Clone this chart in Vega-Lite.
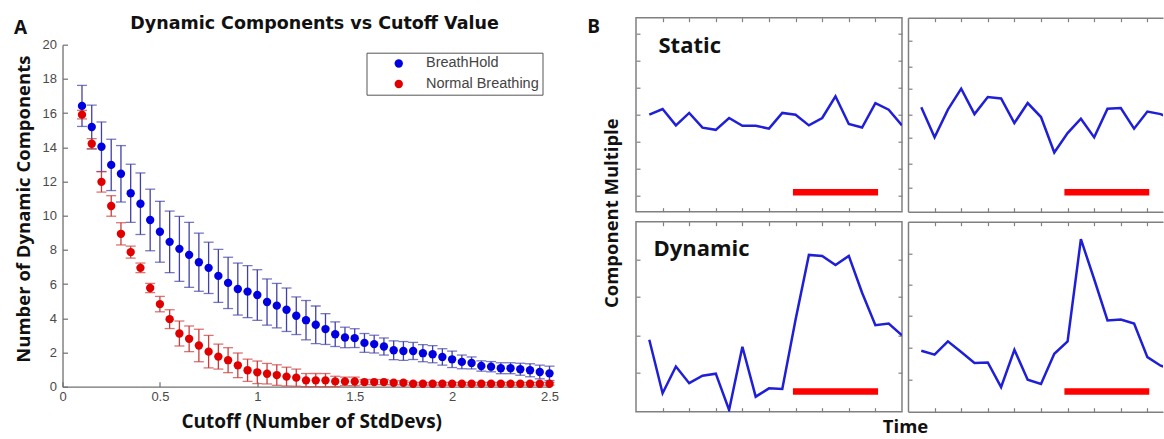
{
  "$schema": "https://vega.github.io/schema/vega-lite/v6.json",
  "padding": {"left": 13.5, "top": 14.7, "right": 0, "bottom": 0},
  "autosize": {"type": "pad"},
  "background": "white",
  "align": "none",
  "spacing": 26.5,
  "config": {
    "view": {"stroke": null},
    "font": "Liberation Sans",
    "axis": {"grid": false, "labelFont": "Liberation Sans", "labelFontSize": 13, "labelColor": "#4a4a4a", "domainColor": "#707070", "tickColor": "#707070", "domainWidth": 1.3, "tickWidth": 1.2, "titleFont": "Open Sans", "titleFontWeight": "bold", "titleColor": "#111111"}
  },
  "datasets": {
    "cut": [
      {"x":0.1,"s":"BreathHold","m":16.42,"lo":15.22,"hi":17.62},
      {"x":0.15,"s":"BreathHold","m":15.19,"lo":13.91,"hi":16.47},
      {"x":0.2,"s":"BreathHold","m":14.03,"lo":12.58,"hi":15.48},
      {"x":0.25,"s":"BreathHold","m":12.97,"lo":11.47,"hi":14.47},
      {"x":0.3,"s":"BreathHold","m":12.45,"lo":10.8,"hi":14.1},
      {"x":0.35,"s":"BreathHold","m":11.31,"lo":9.61,"hi":13.01},
      {"x":0.4,"s":"BreathHold","m":10.7,"lo":8.9,"hi":12.5},
      {"x":0.45,"s":"BreathHold","m":9.75,"lo":7.95,"hi":11.55},
      {"x":0.5,"s":"BreathHold","m":9.06,"lo":7.28,"hi":10.84},
      {"x":0.55,"s":"BreathHold","m":8.47,"lo":6.67,"hi":10.27},
      {"x":0.6,"s":"BreathHold","m":8.06,"lo":6.16,"hi":9.96},
      {"x":0.65,"s":"BreathHold","m":7.71,"lo":5.81,"hi":9.61},
      {"x":0.7,"s":"BreathHold","m":7.28,"lo":5.58,"hi":8.98},
      {"x":0.75,"s":"BreathHold","m":6.95,"lo":5.45,"hi":8.45},
      {"x":0.8,"s":"BreathHold","m":6.48,"lo":4.93,"hi":8.03},
      {"x":0.85,"s":"BreathHold","m":6.07,"lo":4.57,"hi":7.57},
      {"x":0.9,"s":"BreathHold","m":5.71,"lo":4.19,"hi":7.23},
      {"x":0.95,"s":"BreathHold","m":5.56,"lo":4.04,"hi":7.08},
      {"x":1.0,"s":"BreathHold","m":5.36,"lo":3.88,"hi":6.84},
      {"x":1.05,"s":"BreathHold","m":4.95,"lo":3.6,"hi":6.3},
      {"x":1.1,"s":"BreathHold","m":4.74,"lo":3.44,"hi":6.04},
      {"x":1.15,"s":"BreathHold","m":4.5,"lo":3.23,"hi":5.77},
      {"x":1.2,"s":"BreathHold","m":4.15,"lo":3.05,"hi":5.25},
      {"x":1.25,"s":"BreathHold","m":3.89,"lo":2.74,"hi":5.04},
      {"x":1.3,"s":"BreathHold","m":3.62,"lo":2.52,"hi":4.72},
      {"x":1.35,"s":"BreathHold","m":3.37,"lo":2.47,"hi":4.27},
      {"x":1.4,"s":"BreathHold","m":3.07,"lo":2.35,"hi":3.79},
      {"x":1.45,"s":"BreathHold","m":2.88,"lo":2.28,"hi":3.48},
      {"x":1.5,"s":"BreathHold","m":2.84,"lo":2.29,"hi":3.39},
      {"x":1.55,"s":"BreathHold","m":2.56,"lo":2.01,"hi":3.11},
      {"x":1.6,"s":"BreathHold","m":2.49,"lo":1.97,"hi":3.01},
      {"x":1.65,"s":"BreathHold","m":2.35,"lo":1.85,"hi":2.85},
      {"x":1.7,"s":"BreathHold","m":2.13,"lo":1.58,"hi":2.68},
      {"x":1.75,"s":"BreathHold","m":2.09,"lo":1.54,"hi":2.64},
      {"x":1.8,"s":"BreathHold","m":2.09,"lo":1.59,"hi":2.59},
      {"x":1.85,"s":"BreathHold","m":1.96,"lo":1.46,"hi":2.46},
      {"x":1.9,"s":"BreathHold","m":1.9,"lo":1.4,"hi":2.4},
      {"x":1.95,"s":"BreathHold","m":1.74,"lo":1.26,"hi":2.22},
      {"x":2.0,"s":"BreathHold","m":1.6,"lo":1.12,"hi":2.08},
      {"x":2.05,"s":"BreathHold","m":1.45,"lo":1.05,"hi":1.85},
      {"x":2.1,"s":"BreathHold","m":1.39,"lo":1.04,"hi":1.74},
      {"x":2.15,"s":"BreathHold","m":1.21,"lo":0.91,"hi":1.51},
      {"x":2.2,"s":"BreathHold","m":1.17,"lo":0.87,"hi":1.47},
      {"x":2.25,"s":"BreathHold","m":1.08,"lo":0.76,"hi":1.4},
      {"x":2.3,"s":"BreathHold","m":1.08,"lo":0.76,"hi":1.4},
      {"x":2.35,"s":"BreathHold","m":1.02,"lo":0.67,"hi":1.37},
      {"x":2.4,"s":"BreathHold","m":0.96,"lo":0.58,"hi":1.34},
      {"x":2.45,"s":"BreathHold","m":0.86,"lo":0.46,"hi":1.26},
      {"x":2.5,"s":"BreathHold","m":0.78,"lo":0.36,"hi":1.2},
      {"x":0.1,"s":"Normal Breathing","m":15.91,"lo":15.66,"hi":16.16},
      {"x":0.15,"s":"Normal Breathing","m":14.21,"lo":13.91,"hi":14.51},
      {"x":0.2,"s":"Normal Breathing","m":11.98,"lo":11.38,"hi":12.58},
      {"x":0.25,"s":"Normal Breathing","m":10.57,"lo":9.97,"hi":11.17},
      {"x":0.3,"s":"Normal Breathing","m":8.94,"lo":8.29,"hi":9.59},
      {"x":0.35,"s":"Normal Breathing","m":7.87,"lo":7.52,"hi":8.22},
      {"x":0.4,"s":"Normal Breathing","m":6.95,"lo":6.67,"hi":7.23},
      {"x":0.45,"s":"Normal Breathing","m":5.77,"lo":5.5,"hi":6.04},
      {"x":0.5,"s":"Normal Breathing","m":4.83,"lo":4.38,"hi":5.28},
      {"x":0.55,"s":"Normal Breathing","m":3.95,"lo":3.4,"hi":4.5},
      {"x":0.6,"s":"Normal Breathing","m":3.11,"lo":2.38,"hi":3.84},
      {"x":0.65,"s":"Normal Breathing","m":2.8,"lo":2.05,"hi":3.55},
      {"x":0.7,"s":"Normal Breathing","m":2.41,"lo":1.46,"hi":3.36},
      {"x":0.75,"s":"Normal Breathing","m":2.05,"lo":1.1,"hi":3.0},
      {"x":0.8,"s":"Normal Breathing","m":1.76,"lo":1.03,"hi":2.49},
      {"x":0.85,"s":"Normal Breathing","m":1.55,"lo":0.82,"hi":2.28},
      {"x":0.9,"s":"Normal Breathing","m":1.25,"lo":0.53,"hi":1.97},
      {"x":0.95,"s":"Normal Breathing","m":0.96,"lo":0.31,"hi":1.61},
      {"x":1.0,"s":"Normal Breathing","m":0.84,"lo":0.18,"hi":1.5},
      {"x":1.05,"s":"Normal Breathing","m":0.76,"lo":0.16,"hi":1.36},
      {"x":1.1,"s":"Normal Breathing","m":0.68,"lo":0.08,"hi":1.28},
      {"x":1.15,"s":"Normal Breathing","m":0.59,"lo":0.04,"hi":1.14},
      {"x":1.2,"s":"Normal Breathing","m":0.53,"lo":0.03,"hi":1.03},
      {"x":1.25,"s":"Normal Breathing","m":0.37,"lo":0.0,"hi":0.77},
      {"x":1.3,"s":"Normal Breathing","m":0.37,"lo":0.0,"hi":0.77},
      {"x":1.35,"s":"Normal Breathing","m":0.37,"lo":0.0,"hi":0.77},
      {"x":1.4,"s":"Normal Breathing","m":0.31,"lo":0.01,"hi":0.61},
      {"x":1.45,"s":"Normal Breathing","m":0.31,"lo":0.06,"hi":0.56},
      {"x":1.5,"s":"Normal Breathing","m":0.31,"lo":0.06,"hi":0.56},
      {"x":1.55,"s":"Normal Breathing","m":0.27,"lo":0.12,"hi":0.42},
      {"x":1.6,"s":"Normal Breathing","m":0.27,"lo":0.12,"hi":0.42},
      {"x":1.65,"s":"Normal Breathing","m":0.27,"lo":0.12,"hi":0.42},
      {"x":1.7,"s":"Normal Breathing","m":0.23,"lo":0.11,"hi":0.35},
      {"x":1.75,"s":"Normal Breathing","m":0.23,"lo":0.11,"hi":0.35},
      {"x":1.8,"s":"Normal Breathing","m":0.17,"lo":0.09,"hi":0.25},
      {"x":1.85,"s":"Normal Breathing","m":0.17,"lo":0.09,"hi":0.25},
      {"x":1.9,"s":"Normal Breathing","m":0.17,"lo":0.09,"hi":0.25},
      {"x":1.95,"s":"Normal Breathing","m":0.17,"lo":0.09,"hi":0.25},
      {"x":2.0,"s":"Normal Breathing","m":0.17,"lo":0.09,"hi":0.25},
      {"x":2.05,"s":"Normal Breathing","m":0.17,"lo":0.09,"hi":0.25},
      {"x":2.1,"s":"Normal Breathing","m":0.17,"lo":0.09,"hi":0.25},
      {"x":2.15,"s":"Normal Breathing","m":0.17,"lo":0.09,"hi":0.25},
      {"x":2.2,"s":"Normal Breathing","m":0.17,"lo":0.09,"hi":0.25},
      {"x":2.25,"s":"Normal Breathing","m":0.17,"lo":0.09,"hi":0.25},
      {"x":2.3,"s":"Normal Breathing","m":0.17,"lo":0.09,"hi":0.25},
      {"x":2.35,"s":"Normal Breathing","m":0.17,"lo":0.09,"hi":0.25},
      {"x":2.4,"s":"Normal Breathing","m":0.17,"lo":0.09,"hi":0.25},
      {"x":2.45,"s":"Normal Breathing","m":0.17,"lo":0.09,"hi":0.25},
      {"x":2.5,"s":"Normal Breathing","m":0.17,"lo":0.09,"hi":0.25}
    ],
    "series": [
      {"p":"TL","t":0.5,"v":5.0},{"p":"TL","t":1.0,"v":5.29},{"p":"TL","t":1.5,"v":4.45},{"p":"TL","t":2.0,"v":5.09},{"p":"TL","t":2.5,"v":4.33},
      {"p":"TL","t":3.0,"v":4.22},{"p":"TL","t":3.5,"v":4.83},{"p":"TL","t":4.0,"v":4.43},{"p":"TL","t":4.5,"v":4.43},{"p":"TL","t":5.0,"v":4.28},
      {"p":"TL","t":5.5,"v":5.09},{"p":"TL","t":6.0,"v":5.0},{"p":"TL","t":6.5,"v":4.45},{"p":"TL","t":7.0,"v":4.83},{"p":"TL","t":7.5,"v":5.95},
      {"p":"TL","t":8.0,"v":4.52},{"p":"TL","t":8.5,"v":4.34},{"p":"TL","t":9.0,"v":5.6},{"p":"TL","t":9.5,"v":5.26},{"p":"TL","t":10.0,"v":4.45},
      {"p":"TR","t":0.5,"v":5.38},{"p":"TR","t":1.0,"v":3.84},{"p":"TR","t":1.5,"v":5.26},{"p":"TR","t":2.0,"v":6.34},{"p":"TR","t":2.5,"v":5.03},
      {"p":"TR","t":3.0,"v":5.91},{"p":"TR","t":3.5,"v":5.84},{"p":"TR","t":4.0,"v":4.57},{"p":"TR","t":4.5,"v":5.6},{"p":"TR","t":5.0,"v":4.88},
      {"p":"TR","t":5.5,"v":3.05},{"p":"TR","t":6.0,"v":4.05},{"p":"TR","t":6.5,"v":4.79},{"p":"TR","t":7.0,"v":3.83},{"p":"TR","t":7.5,"v":5.31},
      {"p":"TR","t":8.0,"v":5.34},{"p":"TR","t":8.5,"v":4.28},{"p":"TR","t":9.0,"v":5.16},{"p":"TR","t":9.5,"v":5.03},{"p":"TR","t":10.0,"v":4.7},
      {"p":"BL","t":0.5,"v":3.79},{"p":"BL","t":1.0,"v":0.97},{"p":"BL","t":1.5,"v":2.38},{"p":"BL","t":2.0,"v":1.5},{"p":"BL","t":2.5,"v":1.89},
      {"p":"BL","t":3.0,"v":2.0},{"p":"BL","t":3.5,"v":0.09},{"p":"BL","t":4.0,"v":3.42},{"p":"BL","t":4.5,"v":0.79},{"p":"BL","t":5.0,"v":1.23},
      {"p":"BL","t":5.5,"v":1.2},{"p":"BL","t":6.0,"v":4.85},{"p":"BL","t":6.5,"v":8.25},{"p":"BL","t":7.0,"v":8.2},{"p":"BL","t":7.5,"v":7.72},
      {"p":"BL","t":8.0,"v":8.2},{"p":"BL","t":8.5,"v":6.26},{"p":"BL","t":9.0,"v":4.55},{"p":"BL","t":9.5,"v":4.64},{"p":"BL","t":10.0,"v":4.02},
      {"p":"BR","t":0.5,"v":3.21},{"p":"BR","t":1.0,"v":3.0},{"p":"BR","t":1.5,"v":3.7},{"p":"BR","t":2.0,"v":3.14},{"p":"BR","t":2.5,"v":2.56},
      {"p":"BR","t":3.0,"v":2.59},{"p":"BR","t":3.5,"v":1.29},{"p":"BR","t":4.0,"v":3.26},{"p":"BR","t":4.5,"v":1.68},{"p":"BR","t":5.0,"v":1.46},
      {"p":"BR","t":5.5,"v":3.05},{"p":"BR","t":6.0,"v":3.7},{"p":"BR","t":6.5,"v":9.08},{"p":"BR","t":7.0,"v":6.97},{"p":"BR","t":7.5,"v":4.8},
      {"p":"BR","t":8.0,"v":4.85},{"p":"BR","t":8.5,"v":4.64},{"p":"BR","t":9.0,"v":2.87},{"p":"BR","t":9.5,"v":2.42},{"p":"BR","t":10.0,"v":2.2}
    ],
    "bars": [
      {"p":"TL","x1":5.9,"x2":9.1,"y":1.0},
      {"p":"TR","x1":5.88,"x2":9.07,"y":1.0},
      {"p":"BL","x1":5.9,"x2":9.1,"y":1.06},
      {"p":"BR","x1":5.88,"x2":9.07,"y":1.06}
    ]
  },
  "hconcat": [
    {
      "bounds": "flush",
      "spacing": 0,
      "vconcat": [
        {"width": 487, "height": 26.3, "data": {"values": [{"a": 0}]}, "mark": {"type": "point", "opacity": 0}},
        {
          "width": 487,
          "height": 342,
          "data": {"name": "cut"},
          "layer": [
            {
              "mark": {"type": "errorbar", "ticks": true, "size": 10, "thickness": 1.3},
              "encoding": {
                "x": {"field": "x", "type": "quantitative", "scale": {"domain": [0, 2.5], "nice": false, "zero": false},
                  "axis": {"orient": "bottom", "values": [0, 0.5, 1, 1.5, 2, 2.5], "format": "~g", "labelFlush": false, "title": "Cutoff (Number of StdDevs)", "titleFontSize": 19, "titleX": 248.7, "titleY": 40.5, "titleBaseline": "alphabetic", "titleAlign": "center", "tickSize": -5, "labelPadding": 9}},
                "y": {"field": "lo", "type": "quantitative", "scale": {"domain": [0, 20], "nice": false},
                  "axis": {"orient": "left", "values": [0, 2, 4, 6, 8, 10, 12, 14, 16, 18, 20], "title": "Number of Dynamic Components", "titleFontSize": 18.5, "titleX": -33.3, "titleY": 164, "titleBaseline": "alphabetic", "titleAlign": "center", "titleAngle": -90, "tickSize": -5, "labelPadding": 11}},
                "y2": {"field": "hi"},
                "color": {"field": "s", "type": "nominal", "scale": {"domain": ["BreathHold", "Normal Breathing"], "range": ["#4040a8", "#cc3b3b"]}, "legend": null}
              }
            },
            {
              "mark": {"type": "point", "filled": true, "size": 70, "opacity": 1},
              "encoding": {
                "x": {"field": "x", "type": "quantitative", "scale": {"domain": [0, 2.5], "nice": false, "zero": false},
                  "axis": {"orient": "top", "title": "Dynamic Components vs Cutoff Value", "titleFont": "DejaVu Sans", "titleFontSize": 17.5, "titleX": 251.5, "titleY": -15.8, "titleBaseline": "alphabetic", "titleAlign": "center", "domain": false, "ticks": false, "labels": false}},
                "y": {"field": "m", "type": "quantitative",
                  "axis": {"orient": "right", "title": "A", "titleFontSize": 19, "titleX": -536, "titleY": -11.3, "titleAngle": 0, "titleAlign": "left", "titleBaseline": "alphabetic", "domain": false, "ticks": false, "labels": false}},
                "color": {"field": "s", "type": "nominal", "scale": {"domain": ["BreathHold", "Normal Breathing"], "range": ["#0000e0", "#e00000"]},
                  "legend": {"title": null, "orient": "none", "legendX": 304, "legendY": 8, "strokeColor": "#555555", "fillColor": "#ffffff", "padding": 3.5, "symbolType": "circle", "symbolSize": 70, "symbolOffset": 21.5, "labelOffset": 20, "labelFontSize": 14.5, "labelColor": "#444444", "labelFont": "Liberation Sans", "rowPadding": 5.5, "symbolStrokeWidth": 0}}
              }
            }
          ],
          "resolve": {"scale": {"color": "independent"}, "axis": {"x": "independent", "y": "independent"}}
        }
      ]
    },
    {
      "columns": 2,
      "bounds": "flush",
      "spacing": {"row": 10, "column": 6},
      "concat": [
        {
          "width": 266, "height": 194,
          "view": {"stroke": "#808080", "strokeWidth": 1.5},
          "layer": [
            {"data": {"name": "series"}, "transform": [{"filter": "datum.p === 'TL'"}],
              "mark": {"type": "line", "color": "#1f1fd8", "strokeWidth": 2.5, "clip": true},
              "encoding": {
                "x": {"field": "t", "type": "quantitative", "scale": {"domain": [0, 10], "nice": false, "zero": false}, "axis": {"orient": "bottom", "values": [1,2,3,4,5,6,7,8,9], "labels": false, "domain": false, "title": null, "tickSize": -4, "tickColor": "#808080"}},
                "y": {"field": "v", "type": "quantitative", "scale": {"domain": [0, 10], "nice": false, "zero": false}, "axis": {"orient": "left", "values": [0.83, 2.24, 3.62, 5.0, 6.38, 7.76, 9.17], "labels": false, "domain": false, "tickSize": -4, "tickColor": "#808080", "title": "Component Multiple", "titleFontSize": 18.5, "titleX": -18, "titleY": 195, "titleBaseline": "alphabetic", "titleAlign": "center", "titleAngle": -90}}
              }},
            {"data": {"name": "bars"}, "transform": [{"filter": "datum.p === 'TL'"}],
              "mark": {"type": "rule", "color": "#ff0000", "strokeWidth": 6.5},
              "encoding": {
                "x": {"field": "x1", "type": "quantitative", "scale": {"domain": [0, 10], "nice": false, "zero": false}, "axis": {"orient": "top", "values": [1,2,3,4,5,6,7,8,9], "labels": false, "domain": false, "tickSize": -4, "tickColor": "#808080", "title": "Static", "titleFontSize": 22, "titleX": 22, "titleY": 34.5, "titleAlign": "left", "titleBaseline": "alphabetic", "titleAngle": 0}},
                "x2": {"field": "x2"},
                "y": {"field": "y", "type": "quantitative", "scale": {"domain": [0, 10], "nice": false, "zero": false}, "axis": {"orient": "right", "values": [0.83, 2.24, 3.62, 5.0, 6.38, 7.76, 9.17], "labels": false, "domain": false, "title": null, "tickSize": -4, "tickColor": "#808080"}}
              }}
          ],
          "resolve": {"axis": {"x": "independent", "y": "independent"}}
        },
        {
          "width": 255, "height": 194,
          "layer": [
            {"data": {"name": "series"}, "transform": [{"filter": "datum.p === 'TR'"}],
              "mark": {"type": "line", "color": "#1f1fd8", "strokeWidth": 2.5, "clip": true},
              "encoding": {
                "x": {"field": "t", "type": "quantitative", "scale": {"domain": [0, 9.586], "nice": false, "zero": false}, "axis": {"orient": "bottom", "values": [1,2,3,4,5,6,7,8,9], "labels": false, "domain": true, "domainColor": "#808080", "domainWidth": 1.5, "title": null, "tickSize": -4, "tickColor": "#808080"}},
                "y": {"field": "v", "type": "quantitative", "scale": {"domain": [0, 10], "nice": false, "zero": false}, "axis": {"orient": "left", "values": [1.26, 2.5, 3.79, 5.0, 6.33, 7.5, 8.79], "labels": false, "domain": true, "domainColor": "#808080", "domainWidth": 1.5, "title": null, "tickSize": -4, "tickColor": "#808080"}}
              }},
            {"data": {"name": "bars"}, "transform": [{"filter": "datum.p === 'TR'"}],
              "mark": {"type": "rule", "color": "#ff0000", "strokeWidth": 6.5},
              "encoding": {
                "x": {"field": "x1", "type": "quantitative", "scale": {"domain": [0, 9.586], "nice": false, "zero": false}, "axis": {"orient": "top", "values": [1,2,3,4,5,6,7,8,9], "labels": false, "domain": true, "domainColor": "#808080", "domainWidth": 1.5, "title": null, "tickSize": -4, "tickColor": "#808080"}},
                "x2": {"field": "x2"},
                "y": {"field": "y", "type": "quantitative", "scale": {"domain": [0, 10], "nice": false, "zero": false}, "axis": {"orient": "right", "title": "B", "titleFontSize": 19, "titleX": -576.2, "titleY": 15, "titleAngle": 0, "titleAlign": "left", "titleBaseline": "alphabetic", "domain": false, "ticks": false, "labels": false}}
              }}
          ],
          "resolve": {"axis": {"x": "independent", "y": "independent"}}
        },
        {
          "width": 266, "height": 190,
          "view": {"stroke": "#808080", "strokeWidth": 1.5},
          "layer": [
            {"data": {"name": "series"}, "transform": [{"filter": "datum.p === 'BL'"}],
              "mark": {"type": "line", "color": "#1f1fd8", "strokeWidth": 2.5, "clip": true},
              "encoding": {
                "x": {"field": "t", "type": "quantitative", "scale": {"domain": [0, 10], "nice": false, "zero": false}, "axis": {"orient": "bottom", "values": [1,2,3,4,5,6,7,8,9], "labels": false, "domain": false, "tickSize": -4, "tickColor": "#808080", "title": "Time", "titleFontSize": 18.5, "titleX": 269, "titleY": 21, "titleAlign": "center", "titleBaseline": "alphabetic"}},
                "y": {"field": "v", "type": "quantitative", "scale": {"domain": [0, 10], "nice": false, "zero": false}, "axis": {"orient": "left", "values": [2.03, 4.0, 6.03, 8.02], "labels": false, "domain": false, "title": null, "tickSize": -4, "tickColor": "#808080"}}
              }},
            {"data": {"name": "bars"}, "transform": [{"filter": "datum.p === 'BL'"}],
              "mark": {"type": "rule", "color": "#ff0000", "strokeWidth": 6.5},
              "encoding": {
                "x": {"field": "x1", "type": "quantitative", "scale": {"domain": [0, 10], "nice": false, "zero": false}, "axis": {"orient": "top", "values": [1,2,3,4,5,6,7,8,9], "labels": false, "domain": false, "tickSize": -4, "tickColor": "#808080", "title": "Dynamic", "titleFontSize": 22, "titleX": 17, "titleY": 33.5, "titleAlign": "left", "titleBaseline": "alphabetic", "titleAngle": 0}},
                "x2": {"field": "x2"},
                "y": {"field": "y", "type": "quantitative", "scale": {"domain": [0, 10], "nice": false, "zero": false}, "axis": {"orient": "right", "values": [2.03, 4.0, 6.03, 8.02], "labels": false, "domain": false, "title": null, "tickSize": -4, "tickColor": "#808080"}}
              }}
          ],
          "resolve": {"axis": {"x": "independent", "y": "independent"}}
        },
        {
          "width": 255, "height": 190,
          "layer": [
            {"data": {"name": "series"}, "transform": [{"filter": "datum.p === 'BR'"}],
              "mark": {"type": "line", "color": "#1f1fd8", "strokeWidth": 2.5, "clip": true},
              "encoding": {
                "x": {"field": "t", "type": "quantitative", "scale": {"domain": [0, 9.586], "nice": false, "zero": false}, "axis": {"orient": "bottom", "values": [1,2,3,4,5,6,7,8,9], "labels": false, "domain": true, "domainColor": "#808080", "domainWidth": 1.5, "title": null, "tickSize": -4, "tickColor": "#808080"}},
                "y": {"field": "v", "type": "quantitative", "scale": {"domain": [0, 10], "nice": false, "zero": false}, "axis": {"orient": "left", "values": [1.68, 3.35, 5.03, 6.7, 8.34], "labels": false, "domain": true, "domainColor": "#808080", "domainWidth": 1.5, "title": null, "tickSize": -4, "tickColor": "#808080"}}
              }},
            {"data": {"name": "bars"}, "transform": [{"filter": "datum.p === 'BR'"}],
              "mark": {"type": "rule", "color": "#ff0000", "strokeWidth": 6.5},
              "encoding": {
                "x": {"field": "x1", "type": "quantitative", "scale": {"domain": [0, 9.586], "nice": false, "zero": false}, "axis": {"orient": "top", "values": [1,2,3,4,5,6,7,8,9], "labels": false, "domain": true, "domainColor": "#808080", "domainWidth": 1.5, "title": null, "tickSize": -4, "tickColor": "#808080"}},
                "x2": {"field": "x2"},
                "y": {"field": "y", "type": "quantitative", "scale": {"domain": [0, 10], "nice": false, "zero": false}, "axis": null}
              }}
          ],
          "resolve": {"axis": {"x": "independent", "y": "independent"}}
        }
      ]
    }
  ]
}
